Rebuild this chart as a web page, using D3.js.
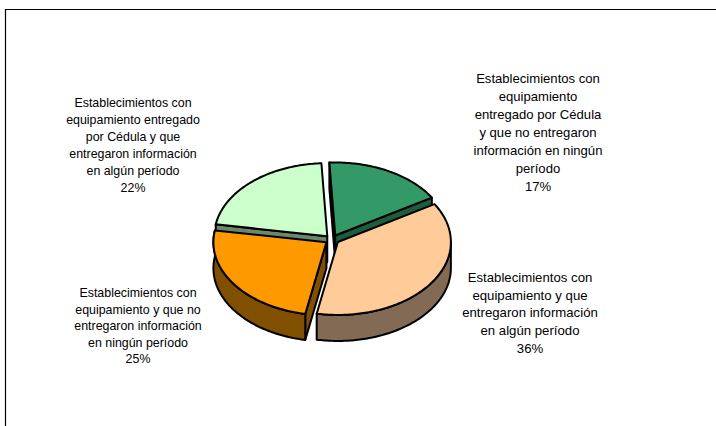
<!DOCTYPE html>
<html lang="es">
<head>
<meta charset="utf-8">
<title>Establecimientos con equipamiento</title>
<script src="https://d3js.org/d3.v7.min.js"></script>
<style>
  html, body { margin: 0; padding: 0; background: #fff; }
  svg { display: block; }
  text { font-family: "Liberation Sans", Arial, sans-serif; fill: #000; }
</style>
</head>
<body>
<script>
// datos
var categorias = [
  ["Establecimientos con", "equipamiento", "entregado por Cédula", "y que no entregaron", "información en ningún", "período"],
  ["Establecimientos con", "equipamiento y que", "entregaron información", "en algún período"],
  ["Establecimientos con", "equipamiento y que no", "entregaron información", "en ningún período"],
  ["Establecimientos con", "equipamiento entregado", "por Cédula y que", "entregaron información", "en algún período"]
];
var valores = [17, 36, 25, 22];
var etiquetas = ["17%", "36%", "25%", "22%"];

// colores (tapa y pared)
var colores = ["#339966", "#ffcc99", "#ff9900", "#ccffcc"];
var coloresLado = ["#1f5c3e", "#836a54", "#804f00", "#6b876b"];

// donde va cada rotulo: centro x, primera linea y, interlinea, tamaño
var rotulos = [
  { x: 538, y: 83, dy: 18, size: 13.1 },
  { x: 530, y: 282, dy: 17.7, size: 13.2 },
  { x: 138, y: 297, dy: 16.6, size: 12.4 },
  { x: 133, y: 107, dy: 17, size: 12.4 }
];

var W = 716, H = 426;
var cx = 332, cy = 239.5;
var rx = 113, ry = 73;
var alto = 26;
var separa = 7;

var svg = d3.select("body").append("svg")
  .attr("width", W)
  .attr("height", H);

// marco: solo arriba e izquierda
svg.append("path")
  .attr("d", "M5.5," + H + "V9.5H" + W)
  .attr("fill", "none")
  .attr("stroke", "#000")
  .attr("stroke-width", 1.2);

var rad = Math.PI / 180;
var pie = d3.pie().sort(null)
  .startAngle(-3 * rad)
  .endAngle(357 * rad);

// la perspectiva agranda un poco lo de adelante
function persp(a) {
  return a + (1.5 + 1.5 * Math.sin(a - 98 * rad)) * rad;
}

var arcos = pie(valores);

// angulo -> elipse (0 = arriba, sentido horario)
function px(a, ox) { return ox + rx * Math.sin(a); }
function py(a, oy) { return oy - ry * Math.cos(a); }

function tramo(a0, a1) {
  var n = Math.max(2, Math.ceil(Math.abs(a1 - a0) / rad));
  return d3.range(n + 1).map(function (i) { return a0 + (a1 - a0) * i / n; });
}

var linea = d3.line();

var trozos = arcos.map(function (d, i) {
  var medio = (d.startAngle + d.endAngle) / 2;
  return {
    i: i,
    a0: persp(d.startAngle),
    a1: persp(d.endAngle),
    ox: cx + separa * Math.sin(medio),
    oy: cy - separa * (ry / rx) * Math.cos(medio)
  };
});

// orden de pintado: de atras hacia adelante
var orden = [0, 3, 2, 1];

orden.forEach(function (k) {
  var t = trozos[k];
  var g = svg.append("g")
    .attr("stroke", "#000")
    .attr("stroke-width", 2)
    .attr("stroke-linejoin", "round");

  // caras planas del corte
  [t.a0, t.a1].forEach(function (a, j) {
    var normal = j == 0 ? a - Math.PI / 2 : a + Math.PI / 2;
    if (Math.cos(normal) >= 0) return;
    var p = [
      [t.ox, t.oy],
      [px(a, t.ox), py(a, t.oy)],
      [px(a, t.ox), py(a, t.oy) + alto],
      [t.ox, t.oy + alto]
    ];
    g.append("path")
      .attr("d", linea(p) + "Z")
      .attr("fill", coloresLado[k]);
  });

  // pared curva, solo la parte de adelante
  var b0 = Math.max(t.a0, 90 * rad), b1 = Math.min(t.a1, 270 * rad);
  if (k == 2) b1 = t.a1;
  if (b1 > b0) {
    var arriba = tramo(b0, b1).map(function (a) { return [px(a, t.ox), py(a, t.oy)]; });
    var abajo = tramo(b1, b0).map(function (a) { return [px(a, t.ox), py(a, t.oy) + alto]; });
    g.append("path")
      .attr("d", linea(arriba.concat(abajo)) + "Z")
      .attr("fill", coloresLado[k]);
  }

  // tapa
  var borde = tramo(t.a0, t.a1).map(function (a) { return [px(a, t.ox), py(a, t.oy)]; });
  g.append("path")
    .attr("d", linea([[t.ox, t.oy]].concat(borde)) + "Z")
    .attr("fill", colores[k]);
});

// rotulos
categorias.forEach(function (lineas, i) {
  var r = rotulos[i];
  var txt = svg.append("text")
    .attr("text-anchor", "middle")
    .attr("font-size", r.size);
  lineas.concat([etiquetas[i]]).forEach(function (s, j) {
    txt.append("tspan")
      .attr("x", r.x)
      .attr("y", r.y + j * r.dy)
      .text(s);
  });
});
</script>
</body>
</html>
